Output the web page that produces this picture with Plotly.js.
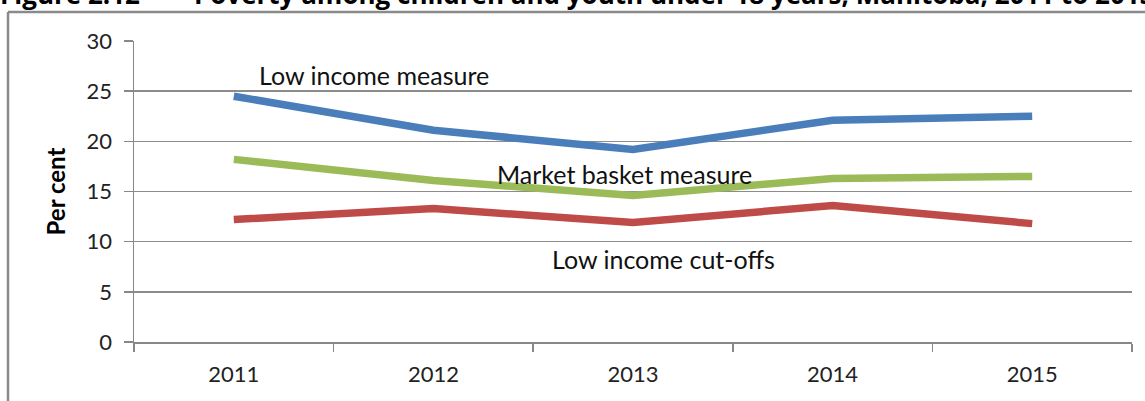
<!DOCTYPE html>
<html>
<head>
<meta charset="utf-8">
<script src="https://cdn.plot.ly/plotly-3.0.1.min.js"></script>
<style>html,body{margin:0;padding:0;background:#fff;}#chart{width:1145px;height:401px;}</style>
</head>
<body>
<div id="chart"></div>
<script>
var years = ['2011', '2012', '2013', '2014', '2015'];
var lowIncomeMeasure = [24.5, 21.1, 19.2, 22.1, 22.5];
var marketBasketMeasure = [18.2, 16.1, 14.6, 16.3, 16.5];
var lowIncomeCutoffs = [12.2, 13.3, 11.9, 13.6, 11.8];
var yTicks = [0, 5, 10, 15, 20, 25, 30];

var W = 1145, H = 401, L = 134, R = 13, T = 41, B = 59;
var pw = W - L - R, ph = H - T - B;
function px(x) { return (x - L) / pw; }
function py(y) { return (H - B - y) / ph; }

var font = 'Lato, "Open Sans", sans-serif';
var lineW = 7.5;

var traces = [
  {x: years, y: lowIncomeMeasure, name: 'Low income measure', mode: 'lines',
   line: {color: '#4a7ebb', width: lineW}},
  {x: years, y: marketBasketMeasure, name: 'Market basket measure', mode: 'lines',
   line: {color: '#9bbb59', width: lineW}},
  {x: years, y: lowIncomeCutoffs, name: 'Low income cut-offs', mode: 'lines',
   line: {color: '#be4b48', width: lineW}}
];

var layout = {
  width: W, height: H,
  margin: {l: L, r: R, t: T, b: B, pad: 0},
  paper_bgcolor: '#fff', plot_bgcolor: '#fff',
  showlegend: false,
  font: {family: font, color: '#222', size: 22},
  xaxis: {
    type: 'category', range: [-0.5, 4.5],
    tickson: 'boundaries', ticks: 'outside', ticklen: 8, tickcolor: '#888', tickwidth: 1.5,
    showline: true, linecolor: '#888', linewidth: 1.5,
    showgrid: false, zeroline: false, ticklabelstandoff: 12,
    tickfont: {family: font, size: 22, color: '#222'}
  },
  yaxis: {
    range: [0, 30], tickvals: yTicks, ticktext: yTicks.map(String),
    ticks: 'outside', ticklen: 9, tickcolor: '#888', tickwidth: 1.5,
    showline: true, linecolor: '#888', linewidth: 1.5,
    showgrid: true, gridcolor: '#8c8c8c', gridwidth: 1.5, zeroline: false,
    ticklabelstandoff: 7,
    tickfont: {family: font, size: 22, color: '#222'},
    title: {text: '<b>Per cent</b>', font: {family: font, size: 24, color: '#000'}, standoff: 14}
  },
  shapes: [
    {type: 'line', xref: 'paper', yref: 'paper', x0: px(8), x1: px(1150), y0: py(12), y1: py(12),
     line: {color: '#8a8a8a', width: 2.5}},
    {type: 'line', xref: 'paper', yref: 'paper', x0: px(8), x1: px(8), y0: py(12), y1: py(405),
     line: {color: '#8a8a8a', width: 2.5}}
  ],
  annotations: [
    {text: 'Low income measure', xref: 'paper', yref: 'paper', x: px(374), y: py(75),
     xanchor: 'center', yanchor: 'middle', showarrow: false,
     font: {family: font, size: 25, color: '#111'}},
    {text: 'Market basket measure', xref: 'paper', yref: 'paper', x: px(624), y: py(174),
     xanchor: 'center', yanchor: 'middle', showarrow: false,
     font: {family: font, size: 25, color: '#111'}},
    {text: 'Low income cut-offs', xref: 'paper', yref: 'paper', x: px(663), y: py(259),
     xanchor: 'center', yanchor: 'middle', showarrow: false,
     font: {family: font, size: 25, color: '#111'}},
    {text: '<b>Figure 2.12&nbsp;&nbsp;&nbsp;&nbsp;&nbsp;&nbsp;&nbsp;&nbsp;Poverty among children and youth under 18 years, Manitoba, 2011 to 2015</b>',
     xref: 'paper', yref: 'paper', x: px(-2), y: py(-6),
     xanchor: 'left', yanchor: 'middle', showarrow: false,
     font: {family: '"Open Sans", sans-serif', size: 26, color: '#000'}}
  ]
};

Plotly.newPlot('chart', traces, layout, {displayModeBar: false, staticPlot: true});
</script>
</body>
</html>
